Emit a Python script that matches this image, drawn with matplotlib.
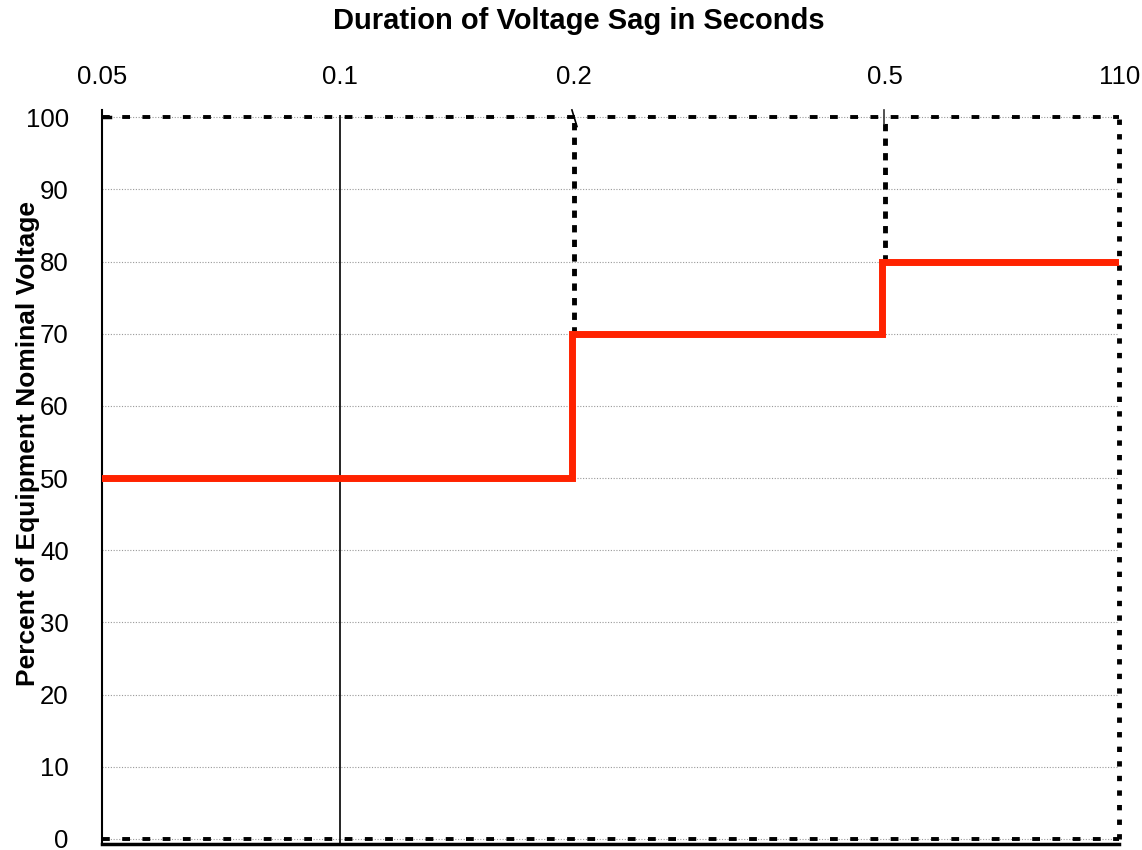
import matplotlib
matplotlib.use('Agg')
import matplotlib.pyplot as plt

plt.rcParams['font.family'] = ['Liberation Sans', 'DejaVu Sans']

# top axis categories and where they sit across the plot (0..1)
dur_labels = ['0.05', '0.1', '0.2', '0.5', '110']
dur_pos = [0.0, 0.234, 0.464, 0.770, 1.0]

# ride-through curve (percent of nominal voltage)
curve_x = [0.0, 0.462, 0.462, 0.767, 0.767, 1.0]
curve_y = [50, 50, 70, 70, 80, 80]

yticks = list(range(0, 101, 10))

fig = plt.figure(figsize=(11.42, 8.5), dpi=100)
ax = fig.add_axes([0.0893, 0.0071, 0.8907, 0.8576])

ax.set_xlim(0, 1.0)
ax.set_ylim(-0.7, 100.3)

for v in yticks:
    ax.axhline(v, color='#999999', lw=0.8, ls=(0, (1, 1.5)), zorder=1)

# dashed box / limits
ax.plot([0, 1.0], [100, 100], color='black', lw=2.8, ls=(0, (2, 3.2)), zorder=3)
ax.plot([0, 1.0], [0, 0], color='black', lw=2.8, ls=(0, (2, 3.2)), zorder=3)
ax.plot([1.0, 1.0], [0, 100], color='black', lw=3.5, ls=(0, (1.1, 1.9)), zorder=3, clip_on=False)
ax.plot([dur_pos[2], dur_pos[2]], [70, 100], color='black', lw=3.5, ls=(0, (1.5, 1.5)), zorder=3)
ax.plot([dur_pos[3], dur_pos[3]], [80, 100], color='black', lw=3.5, ls=(0, (1.5, 1.5)), zorder=3)
ax.plot([dur_pos[1], dur_pos[1]], [-0.7, 100.3], color='black', lw=1.2, zorder=3)
# small marks at the top border
ax.plot([0.462, 0.467], [101.0, 98.7], color='black', lw=1.2, zorder=5, clip_on=False)
ax.plot([0.769, 0.769], [101.0, 99.0], color='#333333', lw=1.2, zorder=5, clip_on=False)
ax.plot([0.0, 0.008], [100, 100], color='black', lw=2.5, zorder=5)

ax.plot(curve_x, curve_y, color='#ff2200', lw=5, solid_joinstyle='miter', zorder=4)

for s in ['top', 'right']:
    ax.spines[s].set_visible(False)
ax.spines['left'].set_linewidth(1.5)
ax.spines['left'].set_bounds(-0.7, 101)
ax.spines['bottom'].set_linewidth(2.5)

ax.set_yticks(yticks)
ax.tick_params(axis='y', length=0, labelsize=18.5, pad=24)
ax.xaxis.tick_top()
ax.set_xticks(dur_pos)
ax.set_xticklabels(dur_labels)
ax.tick_params(axis='x', length=0, labelsize=18.5, pad=18.5)

ax.set_xlabel('Duration of Voltage Sag in Seconds', fontsize=21, fontweight='bold')
ax.xaxis.set_label_position('top')
ax.xaxis.set_label_coords(0.469, 1.118)
ax.set_ylabel('Percent of Equipment Nominal Voltage', fontsize=19, fontweight='bold')
ax.yaxis.set_label_coords(-0.061, 0.55)

fig.savefig('out.png', dpi=100)
